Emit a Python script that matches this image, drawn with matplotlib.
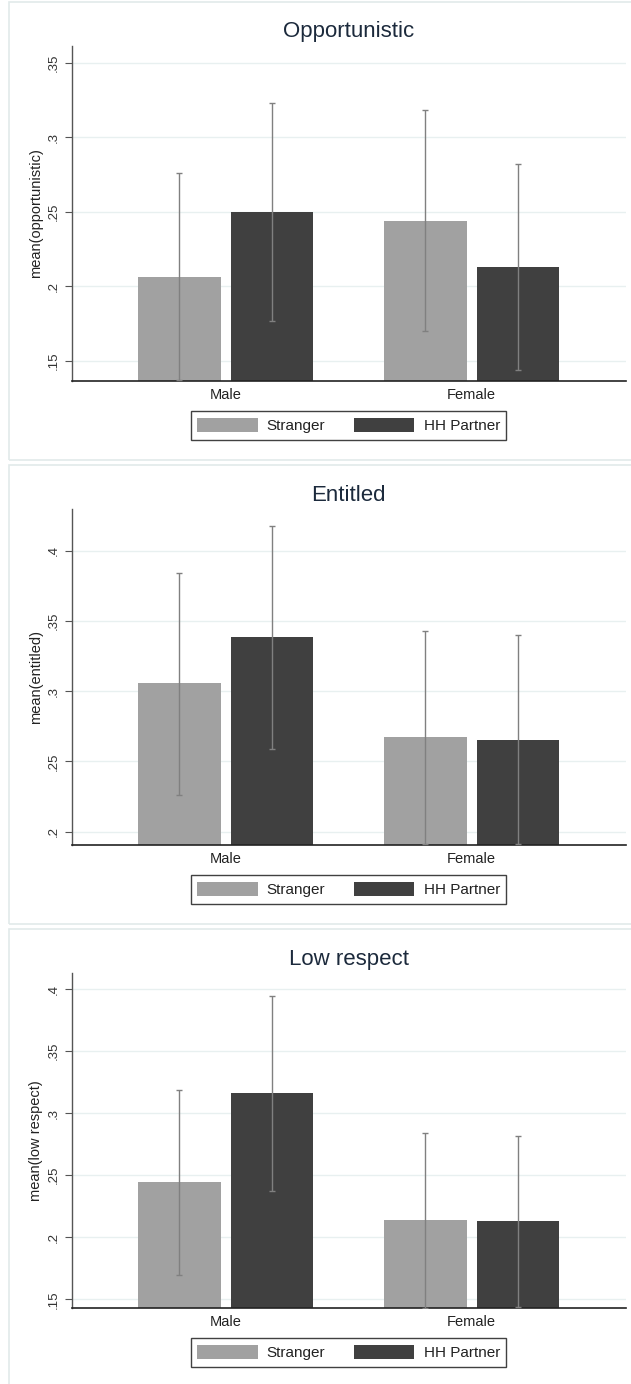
import matplotlib
matplotlib.use("Agg")
import matplotlib.pyplot as plt
from matplotlib.patches import Rectangle, Patch
import numpy as np

plt.rcParams['font.family'] = ['Liberation Sans', 'DejaVu Sans']

# ---------------- data ----------------
groups = ["Male", "Female"]
series_names = ["Stranger", "HH Partner"]
titles = ["Opportunistic", "Entitled", "Low respect"]
ylabels = ["mean(opportunistic)", "mean(entitled)", "mean(low respect)"]

opp_stranger = [0.206, 0.244]
opp_stranger_lo = [0.137, 0.170]
opp_stranger_hi = [0.276, 0.318]
opp_partner = [0.250, 0.213]
opp_partner_lo = [0.177, 0.144]
opp_partner_hi = [0.323, 0.282]

ent_stranger = [0.306, 0.2675]
ent_stranger_lo = [0.226, 0.191]
ent_stranger_hi = [0.384, 0.343]
ent_partner = [0.339, 0.2655]
ent_partner_lo = [0.259, 0.191]
ent_partner_hi = [0.418, 0.340]

low_stranger = [0.2445, 0.2137]
low_stranger_lo = [0.170, 0.143]
low_stranger_hi = [0.3185, 0.284]
low_partner = [0.316, 0.213]
low_partner_lo = [0.237, 0.1435]
low_partner_hi = [0.3945, 0.282]

yticks_list = [[0.15, 0.2, 0.25, 0.3, 0.35],
               [0.2, 0.25, 0.3, 0.35, 0.4],
               [0.15, 0.2, 0.25, 0.3, 0.35, 0.4]]
ylims = [(0.1366, 0.3614), (0.1905, 0.4297), (0.143, 0.4129)]

panels = [
    (opp_stranger, opp_stranger_lo, opp_stranger_hi, opp_partner, opp_partner_lo, opp_partner_hi),
    (ent_stranger, ent_stranger_lo, ent_stranger_hi, ent_partner, ent_partner_lo, ent_partner_hi),
    (low_stranger, low_stranger_lo, low_stranger_hi, low_partner, low_partner_lo, low_partner_hi),
]

# ---------------- style ----------------
W, H = 631, 1384
c_str = "#a1a1a1"
c_hh = "#404040"
c_err = "#808080"
c_grid = "#e8f0f0"
c_frame = "#e2eaea"
c_title = "#1c2a3c"

fig = plt.figure(figsize=(W / 100, H / 100), dpi=100)

def fx(px):
    return px / W

def fy(py):
    return 1 - py / H

# panel frames
frames = [(9, 2, 460), (9, 465, 924), (9, 929, 1392)]
for (x0, y0, y1) in frames:
    fig.patches.append(Rectangle((fx(x0), fy(y1)), fx(W + 10 - x0), (y1 - y0) / H,
                                 transform=fig.transFigure, fill=False,
                                 edgecolor=c_frame, lw=1.2, zorder=0))

axes_px = [(45.7, 381.0), (509.3, 845.0), (973.3, 1308.0)]
left_px, right_px = 71.6, 625.8

x = np.arange(len(groups))
bw = 0.335
off = 0.188

for i, (top, bot) in enumerate(axes_px):
    s, slo, shi, p, plo, phi = panels[i]
    ax = fig.add_axes([fx(left_px), fy(bot), fx(right_px - left_px), (bot - top) / H])
    ax.set_xlim(-0.626, 1.626)
    ax.set_ylim(*ylims[i])

    ax.bar(x - off, s, width=bw, color=c_str, edgecolor='none', zorder=2)
    ax.bar(x + off, p, width=bw, color=c_hh, edgecolor='none', zorder=2)

    s_arr, p_arr = np.array(s), np.array(p)
    ax.errorbar(x - off, s_arr, yerr=[s_arr - np.array(slo), np.array(shi) - s_arr],
                fmt='none', ecolor=c_err, elinewidth=1.0, capsize=2.3, capthick=1.0, zorder=3)
    ax.errorbar(x + off, p_arr, yerr=[p_arr - np.array(plo), np.array(phi) - p_arr],
                fmt='none', ecolor=c_err, elinewidth=1.0, capsize=2.3, capthick=1.0, zorder=3)

    yt = yticks_list[i]
    ax.set_yticks(yt)
    ax.set_yticklabels([("%g" % v).lstrip('0') for v in yt], rotation=90, va='center',
                       fontsize=9.5, color='#333333')
    ax.yaxis.grid(True, color=c_grid, lw=1.0, zorder=0)
    ax.set_axisbelow(True)
    ax.tick_params(axis='y', length=5, width=0.8, color='#555555', pad=3.5)
    ax.set_xticks(x)
    ax.set_xticklabels(groups, fontsize=10.5, color='#222222')
    ax.tick_params(axis='x', length=0, pad=5)

    for sp in ['top', 'right']:
        ax.spines[sp].set_visible(False)
    ax.spines['left'].set_color('#555555')
    ax.spines['left'].set_linewidth(1.0)
    ax.spines['bottom'].set_color('#222222')
    ax.spines['bottom'].set_linewidth(1.2)

    ax.set_ylabel(ylabels[i], fontsize=10.5, color='#222222')
    ax.yaxis.set_label_coords(-(left_px - 43.0) / (right_px - left_px), 0.5)

    ax.set_title(titles[i], fontsize=16, color=c_title, pad=6)

    handles = [Patch(facecolor=c_str, edgecolor='none'), Patch(facecolor=c_hh, edgecolor='none')]
    leg_y = -(44.5) / (bot - top)
    leg = ax.legend(handles, series_names, loc='center', bbox_to_anchor=(0.5, leg_y),
                    ncol=2, frameon=True, fancybox=False, fontsize=11,
                    handlelength=3.93, handleheight=1.05, handletextpad=0.61,
                    columnspacing=1.88, borderpad=0.42, borderaxespad=0)
    leg.get_frame().set_edgecolor('#111111')
    leg.get_frame().set_linewidth(1.0)
    for t in leg.get_texts():
        t.set_color('#222222')

fig.savefig("out.png", dpi=100)
